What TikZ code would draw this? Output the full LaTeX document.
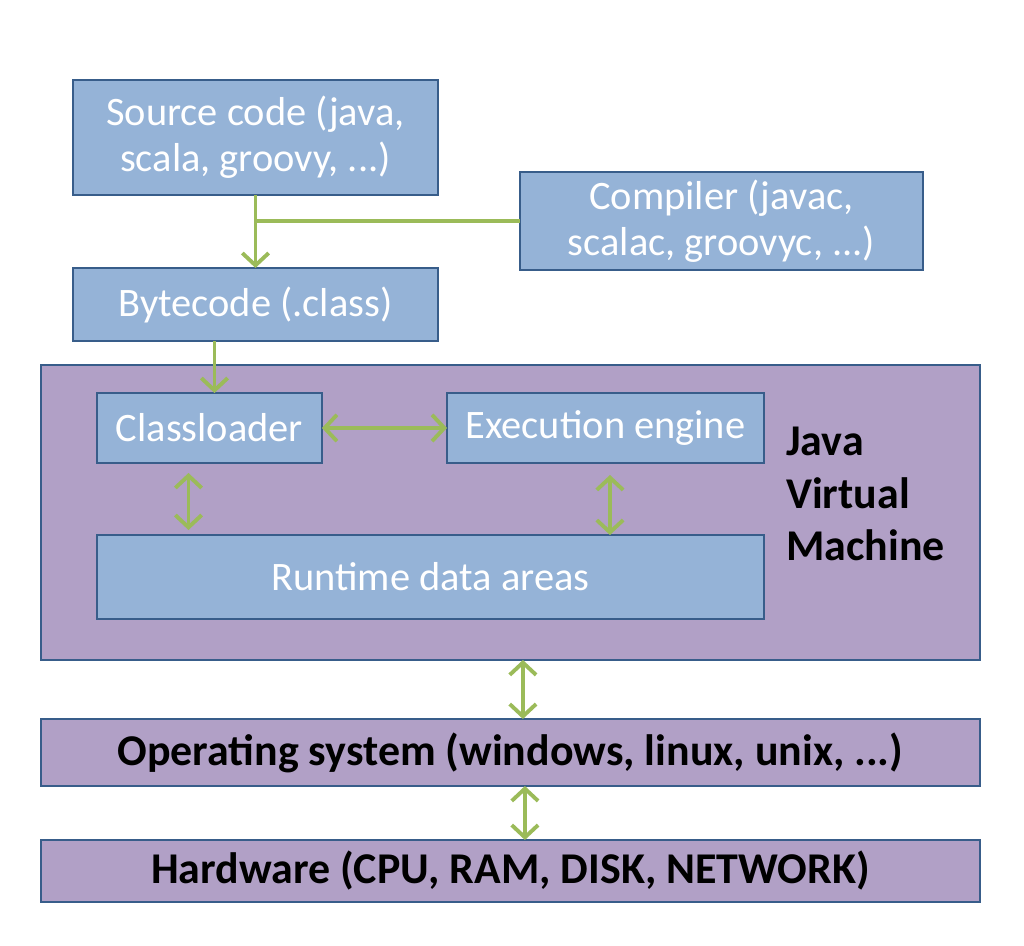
\documentclass[tikz,border=0pt]{standalone}
\usepackage{fontspec}
\setmainfont{Carlito}
\usetikzlibrary{shapes,arrows.meta,positioning,calc}
\definecolor{boxblue}{HTML}{95B3D7}
\definecolor{boxpurple}{HTML}{B1A0C6}
\definecolor{boxline}{HTML}{385D8A}
\definecolor{arrgreen}{HTML}{9BBB59}
\tikzstyle{block} = [rectangle, draw=boxline, line width=1.5pt, fill=boxblue, text=white, align=center, outer sep=0pt, inner sep=0pt, anchor=north west, font=\fontsize{23}{26}\selectfont]
\tikzstyle{layer} = [block, fill=boxpurple, text=black, font=\fontsize{25}{30}\selectfont\bfseries]
\tikzstyle{link} = [line width=2.2pt, draw=arrgreen]
\tikzstyle{arr} = [link, -{Straight Barb[length=7pt,width=15pt]}]
\tikzstyle{darr} = [link, {Straight Barb[length=7pt,width=15pt]}-{Straight Barb[length=7pt,width=15pt]}]

\begin{document}
\begin{tikzpicture}[x=0.02cm, y=-0.02cm]
    \useasboundingbox (0,0) rectangle (1024,946);
    \node[block, minimum width=7.3cm, minimum height=2.3cm] (src) at (73,80) {Source code (java,\\scala, groovy, ...)};
    \node[block, minimum width=8.06cm, minimum height=1.96cm] (comp) at (520,172) {Compiler (javac,\\scalac, groovyc, ...)};
    \node[block, minimum width=7.3cm, minimum height=1.46cm] (byte) at (73,268) {Bytecode (.class)};
    \node[layer, minimum width=18.78cm, minimum height=5.9cm] (jvm) at (41,365) {};
    \node[block, minimum width=4.5cm, minimum height=1.4cm] (cl) at (97,393) {Classloader};
    \node[block, minimum width=6.34cm, minimum height=1.4cm] (exec) at (447,393) {Execution engine};
    \node[block, minimum width=13.34cm, minimum height=1.68cm] (rt) at (97,535) {Runtime data areas};
    \node[anchor=west, align=left, font=\fontsize{25}{30}\selectfont\bfseries] (jvmlabel) at (780,494) {Java\\Virtual\\Machine};
    \node[layer, minimum width=18.78cm, minimum height=1.34cm] (os) at (41,719) {Operating system (windows, linux, unix, ...)};
    \node[layer, minimum width=18.78cm, minimum height=1.24cm] (hw) at (41,840) {Hardware (CPU, RAM, DISK, NETWORK)};

    \draw[arr] (src.south) -- (byte.north);
    \draw[link] (comp.west) -- (comp.west -| src.south);
    \draw[arr] ([xshift=0.1cm]byte.south -| cl.north) -- ([xshift=0.1cm]cl.north);
    \draw[darr] (cl.east) -- (exec.west);
    \draw[darr, shorten <=0.2cm, shorten >=0.1cm] ([xshift=-0.42cm]cl.south) -- ([xshift=-0.42cm]cl.south |- rt.north);
    \draw[darr, shorten <=0.24cm] ([xshift=0.09cm]exec.south) -- ([xshift=0.09cm]exec.south |- rt.north);
    \draw[darr] ([xshift=0.25cm]jvm.south) -- ([xshift=0.25cm]os.north);
    \draw[darr] ([xshift=0.29cm]os.south) -- ([xshift=0.29cm]hw.north);
\end{tikzpicture}
\end{document}
